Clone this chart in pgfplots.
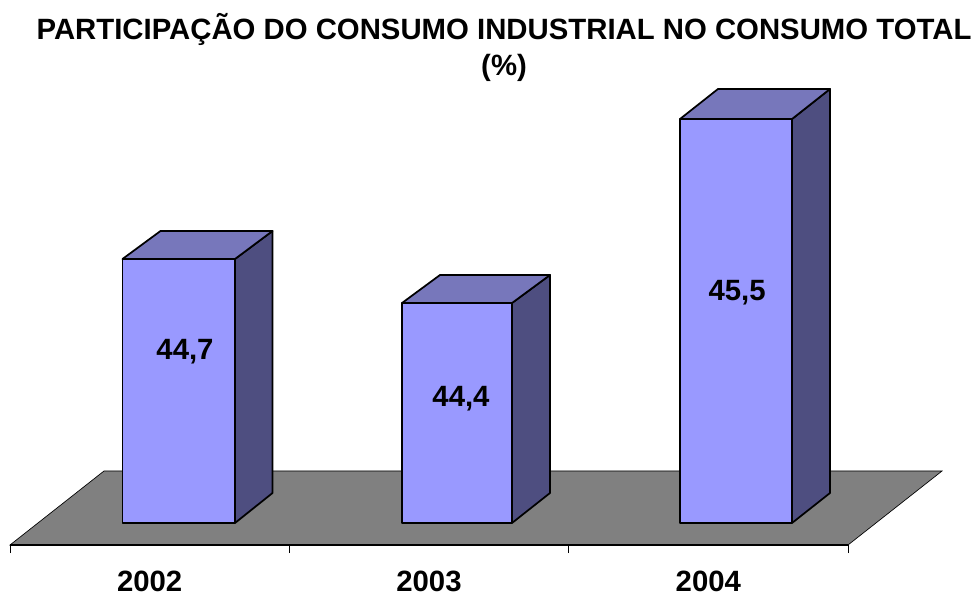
\documentclass[border=0pt]{standalone}
\usepackage{fontspec}
\setmainfont{Liberation Sans}
\usepackage{pgfplots}
\pgfplotsset{compat=1.18}
\definecolor{barfront}{HTML}{9999FF}
\definecolor{bartop}{HTML}{7777BB}
\definecolor{barside}{HTML}{4E4E80}
\definecolor{floorc}{HTML}{808080}
\pgfplotsset{
  front/.style={draw=black,line width=1.3pt,fill=barfront,mark=none,line join=round},
  top/.style={draw=black,line width=1.3pt,fill=bartop,mark=none,line join=round},
  side/.style={draw=black,line width=1.3pt,fill=barside,mark=none,line join=round},
}
\begin{document}
\begin{tikzpicture}
\path[use as bounding box] (0,0) rectangle (730.5pt,447pt);
\begin{axis}[
  at={(0,38.25pt)},anchor=south west,
  scale only axis,width=730.5pt,height=408.75pt,
  xmin=-0.0358,xmax=3.4511,ymin=42.8625,ymax=46.26875,
  axis y line=none,axis x line=bottom,
  x axis line style={draw=none,-},
  xtick={0.5,1.5,2.5},
  xticklabels={2002,2003,2004},
  minor xtick={0,1,2,3},
  major tick length=0pt,minor tick length=6pt,
  tick align=outside,
  minor tick style={draw=black,line width=0.5pt},
  xticklabel style={font=\fontsize{22}{26}\selectfont\bfseries,yshift=-18pt,inner sep=1pt},
  clip=false,
  title={PARTICIPAÇÃO DO CONSUMO INDUSTRIAL NO CONSUMO TOTAL\\(\%)},
  title style={at={(0.5175,1)},anchor=north,yshift=-15.5pt,align=center,inner sep=0pt,
    font=\fontsize{22}{27}\selectfont\bfseries},
]
% floor
\addplot[draw=black,line width=0.5pt,fill=floorc,mark=none] coordinates {
  (0,42.8625) (3,42.8625) (3.3366,43.325) (0.3365,43.325)} -- cycle;
\addplot[draw=black,line width=1pt,mark=none] coordinates {(0,42.8625) (3,42.8625)};
% 2002
\addplot[side] coordinates {(0.8055,43) (0.9398,43.1875) (0.9398,44.825) (0.8055,44.65)} -- cycle;
\addplot[top] coordinates {(0.4027,44.65) (0.5388,44.825) (0.9398,44.825) (0.8055,44.65)} -- cycle;
\addplot[front] coordinates {(0.4027,43) (0.8055,43) (0.8055,44.65) (0.4027,44.65)} -- cycle;
% 2003
\addplot[side] coordinates {(1.7972,43) (1.9332,43.1875) (1.9332,44.55) (1.7972,44.375)} -- cycle;
\addplot[top] coordinates {(1.4034,44.375) (1.5394,44.55) (1.9332,44.55) (1.7972,44.375)} -- cycle;
\addplot[front] coordinates {(1.4034,43) (1.7972,43) (1.7972,44.375) (1.4034,44.375)} -- cycle;
% 2004
\addplot[side] coordinates {(2.7996,43) (2.9356,43.1875) (2.9356,45.7125) (2.7996,45.525)} -- cycle;
\addplot[top] coordinates {(2.3986,45.525) (2.5346,45.7125) (2.9356,45.7125) (2.7996,45.525)} -- cycle;
\addplot[front] coordinates {(2.3986,43) (2.7996,43) (2.7996,45.525) (2.3986,45.525)} -- cycle;
% value labels
\node[font=\fontsize{22}{26}\selectfont\bfseries] at (axis cs:0.6265,44.0700) {44,7};
\node[font=\fontsize{22}{26}\selectfont\bfseries] at (axis cs:1.6146,43.7750) {44,4};
\node[font=\fontsize{22}{26}\selectfont\bfseries] at (axis cs:2.6028,44.4375) {45,5};
\end{axis}
\end{tikzpicture}
\end{document}
